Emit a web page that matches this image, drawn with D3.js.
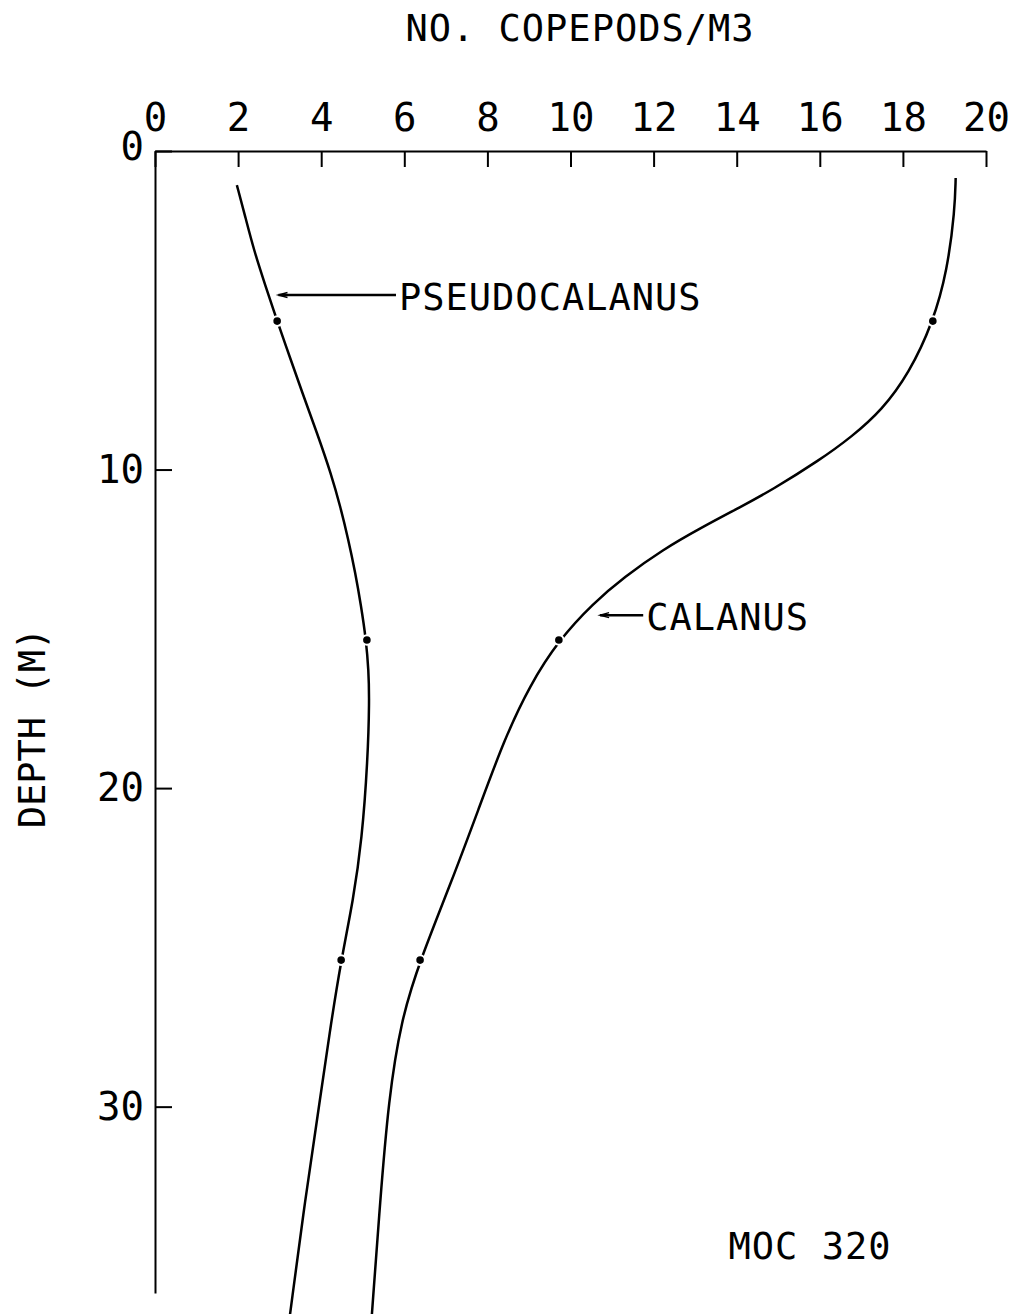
<!DOCTYPE html>
<html>
<head>
<meta charset="utf-8">
<script src="https://cdn.jsdelivr.net/npm/d3@7"></script>
<style>
body {margin:0; background:#fff;}
text {font-family:"DejaVu Sans Mono", monospace; fill:#000;}
</style>
</head>
<body>
<div id="chart"></div>
<script>
var w=1016
var h=1314

//Values
var pseudoDepth=[1.07,2.10,3.11,4.20,5.34,6.45,7.57,8.85,10.14,11.16,12.18,13.23,14.28,15.35,16.30,17.24,19.12,21.63,23.52,25.40,27.60,29.80,32.94,36.52];
var pseudoValue=[1.97,2.18,2.38,2.65,2.94,3.24,3.54,3.90,4.24,4.46,4.65,4.82,4.96,5.08,5.14,5.16,5.12,4.98,4.77,4.48,4.21,3.97,3.61,3.25];
var calanusDepth=[0.85,1.85,3.74,5.40,6.97,8.13,8.98,9.70,10.64,11.17,11.80,12.53,13.37,14.19,15.35,16.77,18.49,20.69,22.89,25.40,27.28,29.80,32.94,36.52];
var calanusValue=[19.27,19.25,19.07,18.72,18.15,17.50,16.76,16.00,14.85,14.10,13.18,12.20,11.30,10.55,9.72,9.02,8.40,7.78,7.15,6.38,5.92,5.62,5.42,5.22];
//Sampled depths (dots)
var sampleDepth=[5.34,15.35,25.40];
var pseudoSamples=[2.94,5.10,4.48];
var calanusSamples=[18.72,9.72,6.38];

var xTicks=[0,2,4,6,8,10,12,14,16,18,20];
var yTicks=[0,10,20,30];

var svg=d3.select("#chart")
          .append("svg")
          .attr("width",w)
          .attr("height",h);

//Scales
var xScale=d3.scaleLinear()
             .domain([0,20])
             .range([155,986]);
var yScale=d3.scaleLinear()
             .domain([0,35.85])
             .range([151,1293]);

//Top axis
var xAxis=svg.append("g")
             .attr("transform","translate(0,"+yScale(0)+")")
             .call(d3.axisTop(xScale)
                     .tickValues(xTicks)
                     .tickSizeInner(-16)
                     .tickSizeOuter(0)
                     .tickPadding(20));
//Left axis
var yAxis=svg.append("g")
             .attr("transform","translate("+xScale(0)+",0)")
             .call(d3.axisLeft(yScale)
                     .tickValues(yTicks)
                     .tickSizeInner(-17)
                     .tickSizeOuter(0)
                     .tickPadding(11));

svg.selectAll(".domain, .tick line")
   .attr("stroke","#000")
   .attr("stroke-width",2);
svg.selectAll(".tick text")
   .style("font-family","DejaVu Sans Mono, monospace")
   .style("font-size","39px")
   .attr("fill","#000");
yAxis.selectAll(".tick")
     .filter(function(d) {return d==0;})
     .select("text")
     .attr("dy","0.23em");

//Axis titles
svg.append("text")
   .attr("x",580)
   .attr("y",41)
   .attr("text-anchor","middle")
   .style("font-size","37px")
   .style("letter-spacing","1px")
   .text("NO. COPEPODS/M3");
svg.append("text")
   .attr("transform","translate(45,728) rotate(-90)")
   .attr("text-anchor","middle")
   .style("font-size","37px")
   .text("DEPTH (M)");

//Curves
var line=d3.line()
           .x(function(d) {return xScale(d[0]);})
           .y(function(d) {return yScale(d[1]);})
           .curve(d3.curveBasis);

var series=[
    {name:"PSEUDOCALANUS", values:d3.zip(pseudoValue,pseudoDepth), samples:d3.zip(pseudoSamples,sampleDepth)},
    {name:"CALANUS", values:d3.zip(calanusValue,calanusDepth), samples:d3.zip(calanusSamples,sampleDepth)}
];

svg.append("g")
   .selectAll("path")
   .data(series)
   .enter()
   .append("path")
   .attr("d",function(d) {return line(d.values);})
   .attr("fill","none")
   .attr("stroke","#000")
   .attr("stroke-width",2.5);

//Sample dots, white ring leaves the small gap in the line
svg.append("g")
   .selectAll("circle")
   .data(d3.merge(series.map(function(s) {return s.samples;})))
   .enter()
   .append("circle")
   .attr("cx",function(d) {return xScale(d[0]);})
   .attr("cy",function(d) {return yScale(d[1]);})
   .attr("r",3.8)
   .attr("fill","#000")
   .attr("stroke","#fff")
   .attr("stroke-width",4)
   .attr("paint-order","stroke");

//Labels with arrows
var labels=[
    {text:"PSEUDOCALANUS", x0:2.9, x1:5.8, depth:4.52},
    {text:"CALANUS", x0:10.64, x1:11.75, depth:14.57}
];
var lab=svg.append("g")
           .selectAll("g")
           .data(labels)
           .enter()
           .append("g");
lab.append("line")
   .attr("x1",function(d) {return xScale(d.x0)+3;})
   .attr("x2",function(d) {return xScale(d.x1);})
   .attr("y1",function(d) {return yScale(d.depth);})
   .attr("y2",function(d) {return yScale(d.depth);})
   .attr("stroke","#000")
   .attr("stroke-width",2.5);
lab.append("path")
   .attr("d",function(d) {
       var x=xScale(d.x0)+3, y=yScale(d.depth);
       return "M"+(x+9)+","+(y-2.5)+"L"+x+","+y+"L"+(x+9)+","+(y+2.5);})
   .attr("fill","none")
   .attr("stroke","#000")
   .attr("stroke-width",1.5);
lab.append("text")
   .attr("x",function(d) {return xScale(d.x1)+3;})
   .attr("y",function(d) {return yScale(d.depth)+15;})
   .style("font-size","37px")
   .style("letter-spacing","1px")
   .text(function(d) {return d.text;});

//Run id
svg.append("text")
   .attr("x",810)
   .attr("y",1259)
   .attr("text-anchor","middle")
   .style("font-size","37px")
   .style("letter-spacing","1px")
   .text("MOC 320");
</script>
</body>
</html>
